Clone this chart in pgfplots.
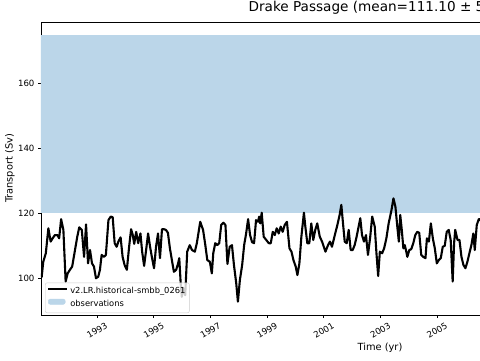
\documentclass[border=0pt]{standalone}
\usepackage{pgfplots}
\pgfplotsset{compat=1.18}
\usepackage{fontspec}
\setmainfont{DejaVu Sans}
\definecolor{obsblue}{RGB}{187,214,233}
\pgfplotstableread{
year val
1991.02 100.3
1991.045 100.5
1991.10 105.1
1991.19 107.7
1991.28 115.4
1991.36 111.3
1991.43 112.3
1991.51 113.3
1991.60 113.3
1991.66 112.3
1991.73 118.2
1991.81 114.9
1991.89 99.0
1991.96 101.5
1992.04 102.6
1992.12 103.6
1992.22 108.7
1992.30 112.8
1992.37 115.7
1992.46 114.9
1992.54 106.6
1992.61 116.6
1992.68 104.6
1992.75 108.7
1992.82 104.6
1992.89 103.6
1992.96 100.0
1993.04 100.5
1993.10 102.6
1993.16 107.2
1993.24 106.6
1993.31 107.2
1993.40 117.9
1993.48 119.0
1993.55 118.8
1993.62 110.8
1993.69 109.7
1993.76 111.5
1993.83 112.6
1993.90 106.6
1993.97 104.1
1994.05 102.6
1994.13 109.7
1994.20 115.1
1994.26 113.3
1994.31 110.6
1994.38 114.3
1994.45 110.8
1994.53 113.8
1994.59 108.2
1994.66 103.8
1994.73 108.7
1994.80 113.8
1994.87 109.7
1994.94 106.2
1995.01 103.1
1995.08 109.7
1995.15 113.8
1995.22 106.2
1995.29 115.1
1995.36 115.1
1995.43 114.9
1995.50 114.0
1995.57 109.2
1995.64 105.6
1995.71 102.0
1995.79 102.6
1995.86 104.6
1995.90 106.2
1995.95 98.5
1995.99 94.3
1996.04 97.0
1996.11 94.8
1996.18 108.2
1996.27 110.2
1996.35 108.7
1996.45 108.2
1996.52 110.8
1996.64 117.4
1996.74 114.9
1996.82 110.2
1996.89 105.6
1996.98 105.1
1997.05 101.5
1997.10 107.7
1997.17 110.8
1997.24 110.2
1997.31 110.8
1997.38 116.4
1997.46 117.1
1997.53 116.4
1997.60 104.4
1997.68 109.7
1997.76 110.2
1997.83 104.1
1997.91 98.5
1997.97 92.8
1998.04 99.5
1998.12 104.1
1998.19 110.2
1998.26 113.8
1998.33 118.2
1998.40 113.3
1998.47 111.1
1998.54 110.8
1998.61 117.9
1998.68 117.4
1998.72 119.0
1998.76 116.9
1998.81 120.2
1998.88 112.8
1998.97 111.8
1999.06 110.8
1999.13 110.8
1999.20 114.3
1999.27 113.3
1999.34 115.4
1999.41 113.8
1999.48 115.9
1999.55 114.3
1999.62 116.4
1999.70 117.4
1999.79 109.2
1999.86 108.2
1999.93 105.6
2000.01 103.6
2000.07 101.0
2000.14 104.6
2000.21 112.8
2000.30 120.2
2000.35 115.9
2000.42 110.8
2000.49 110.8
2000.56 116.9
2000.63 111.8
2000.70 114.9
2000.77 116.9
2000.86 112.8
2000.94 111.3
2001.06 108.2
2001.15 110.2
2001.22 111.3
2001.29 109.7
2001.39 113.3
2001.48 116.4
2001.56 119.5
2001.62 122.6
2001.69 115.9
2001.74 111.3
2001.81 110.8
2001.88 114.9
2001.95 108.7
2002.02 108.7
2002.09 110.2
2002.16 112.8
2002.23 115.9
2002.29 118.5
2002.35 113.3
2002.42 111.3
2002.49 113.3
2002.56 107.2
2002.64 112.8
2002.71 119.0
2002.80 115.9
2002.86 107.7
2002.92 100.7
2002.98 108.2
2003.06 107.7
2003.13 109.2
2003.21 112.3
2003.29 116.9
2003.39 121.0
2003.46 124.6
2003.53 122.0
2003.59 116.4
2003.65 111.3
2003.70 119.5
2003.76 114.3
2003.81 109.2
2003.86 110.2
2003.90 108.7
2003.95 106.6
2004.02 108.7
2004.09 109.0
2004.16 110.8
2004.23 113.3
2004.30 114.3
2004.37 114.0
2004.44 107.2
2004.51 106.6
2004.59 106.2
2004.64 112.3
2004.71 111.3
2004.78 116.9
2004.85 112.3
2004.92 109.2
2004.99 104.6
2005.06 105.6
2005.13 106.2
2005.20 109.7
2005.27 110.0
2005.34 114.3
2005.41 114.9
2005.48 111.8
2005.55 99.0
2005.60 110.8
2005.64 114.9
2005.72 111.8
2005.79 111.8
2005.86 106.6
2005.93 104.1
2006.00 103.1
2006.07 105.1
2006.14 107.7
2006.21 110.2
2006.28 113.8
2006.33 108.7
2006.40 116.4
2006.47 118.2
2006.52 118.2
2006.60 116.5
2006.68 112.0
}\drakedata
\begin{document}
\begin{tikzpicture}[x=1pt,y=1pt]
\begin{axis}[
  at={(41pt,45pt)}, anchor=south west,
  width=678pt, height=293pt, scale only axis,
  xmin=1991.02, xmax=2014.95, ymin=88.7, ymax=178.9,
  axis line style={black, line width=0.7pt},
  tick pos=left, tick align=outside,
  major tick length=3pt,
  tick style={black, line width=0.7pt},
  xtick={1993,1995,...,2005},
  ytick={100,120,140,160},
  minor tick num=0,
  /pgf/number format/assume math mode=true,
  x tick label style={/pgf/number format/1000 sep={}},
  xticklabel style={font=\fontsize{8.6}{10}\selectfont, yshift=-12.5pt, rotate=30, anchor=center},
  yticklabel style={font=\fontsize{8.6}{10}\selectfont, anchor=east},
  scaled ticks=false,
  xlabel={Time (yr)},
  ylabel={Transport (Sv)},
  xlabel style={font=\fontsize{9.83}{12}\selectfont, at={(axis description cs:0.5,0)}, anchor=center, yshift=-33pt},
  ylabel style={font=\fontsize{9.83}{12}\selectfont, at={(axis description cs:-0.0457,0.5)}, anchor=center},
  title={Drake Passage (mean=111.10 ± 5.55)},
  title style={font=\fontsize{13.6}{16}\selectfont, at={(axis description cs:0.5,1)}, anchor=base, yshift=4.7pt},
  legend style={at={(axis description cs:0.0059,0.0068)}, anchor=south west, draw=black!20, rounded corners=2pt,
    fill=white, fill opacity=0.8, draw opacity=1, text opacity=1,
    font=\fontsize{8.33}{10}\selectfont, inner xsep=2pt, inner ysep=2pt,
    nodes={inner xsep=2pt, inner ysep=2.5pt, text height=6.2pt, text depth=1.8pt},
    row sep=0pt},
  legend cell align=left,
]
\addplot[fill=obsblue, draw=none, forget plot] coordinates {(1990,120) (2016,120) (2016,175) (1990,175)} -- cycle;
\addplot[black, line width=2.1pt, line join=round,
  legend image code/.code={\draw[black, line width=2.1pt] (0pt,2.6pt) -- (19pt,2.6pt);}] table[x=year, y=val] {\drakedata};
\addlegendentry{v2.LR.historical-smbb\_0261}
\addlegendimage{legend image code/.code={\fill[obsblue, fill opacity=1] (0pt,0pt) rectangle (17pt,5.2pt);}}
\addlegendentry{observations}
\end{axis}
\pgfresetboundingbox
\useasboundingbox (0,0) rectangle (480,360);
\end{tikzpicture}
\end{document}
